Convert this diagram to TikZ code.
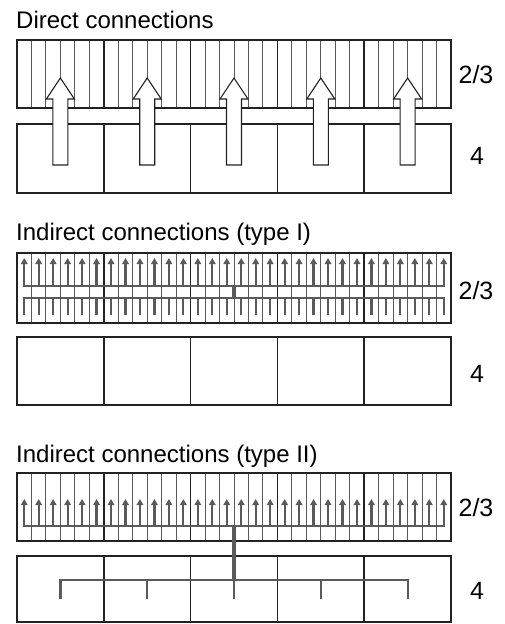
\documentclass[tikz,border=0pt]{standalone}
\usepackage{fontspec}
\setmainfont{Liberation Sans}
\usetikzlibrary{arrows.meta}
\definecolor{conn}{HTML}{5A5A5A}
\definecolor{ink}{HTML}{222222}
\begin{document}
\begin{tikzpicture}[x=1pt,y=-1pt,
  boxline/.style={draw=ink,line width=1.5pt},
  mini/.style={draw=black!65,line width=1pt},
  colsep/.style={draw=ink,line width=1.5pt},
  connline/.style={draw=conn,line width=2.2pt},
  hub/.style={draw=conn,line width=3.8pt},
  uparr/.style={connline,-{Triangle[width=6.5pt,length=6pt]}},
  blockarrow/.style={draw=ink,fill=white,line width=1.1pt,line join=miter},
  title/.style={font=\fontsize{24}{28}\selectfont,anchor=base west,inner sep=0pt},
  layer/.style={font=\fontsize{25}{29}\selectfont,inner sep=0pt}]
\useasboundingbox (0,0) rectangle (504,624);
% ---------- Panel 1 ----------
\node[title] (t1) at (16,28) {Direct connections};
\foreach \i in {1,...,29} {\draw[mini] ({17+\i*14.4667},40) -- ({17+\i*14.4667},108);}
\foreach \i in {1,...,4} {\draw[colsep] ({17+\i*86.8},40) -- ({17+\i*86.8},108);}
\draw[boxline] (17,40) rectangle (451,108);
\foreach \i in {1,...,4} {\draw[colsep] ({17+\i*86.8},124) -- ({17+\i*86.8},193);}
\draw[boxline] (17,124) rectangle (451,193);
\foreach \k in {0,...,4} {
  \pgfmathsetmacro\cx{60.4+86.8*\k}
  \draw[blockarrow] (\cx-7.5,165) -- (\cx-7.5,99) -- (\cx-14,99) -- (\cx,78)
     -- (\cx+14,99) -- (\cx+7.5,99) -- (\cx+7.5,165) -- cycle;
}
\node[layer] (l1a) at (476,75) {2/3};
\node[layer] (l1b) at (477,156) {4};
% ---------- Panel 2 ----------
\node[title] (t2) at (16,240) {Indirect connections (type I)};
\foreach \i in {1,...,29} {\draw[mini] ({17+\i*14.4667},253) -- ({17+\i*14.4667},323);}
\foreach \i in {1,...,4} {\draw[colsep] ({17+\i*86.8},253) -- ({17+\i*86.8},323);}
\draw[boxline] (17,253) rectangle (451,323);
\foreach \i in {0,...,29} {
  \pgfmathsetmacro\mx{17+(\i+0.5)*14.4667}
  \draw[uparr] (\mx,286) -- (\mx,258);
  \draw[connline] (\mx,298) -- (\mx,315);
}
\draw[connline,line cap=rect] (24.2,286) -- (443.8,286);
\draw[connline,line cap=rect] (24.2,298) -- (443.8,298);
\draw[hub] (234,286) -- (234,298);
\foreach \i in {1,...,4} {\draw[colsep] ({17+\i*86.8},337) -- ({17+\i*86.8},405);}
\draw[boxline] (17,337) rectangle (451,405);
\node[layer] (l2a) at (476,291) {2/3};
\node[layer] (l2b) at (477,374) {4};
% ---------- Panel 3 ----------
\node[title] (t3) at (16,462) {Indirect connections (type II)};
\foreach \i in {1,...,29} {\draw[mini] ({17+\i*14.4667},473) -- ({17+\i*14.4667},541);}
\foreach \i in {1,...,4} {\draw[colsep] ({17+\i*86.8},473) -- ({17+\i*86.8},541);}
\draw[boxline] (17,473) rectangle (451,541);
\foreach \i in {0,...,29} {
  \pgfmathsetmacro\mx{17+(\i+0.5)*14.4667}
  \draw[uparr] (\mx,526) -- (\mx,499);
}
\draw[connline,line cap=rect] (24.2,526) -- (443.8,526);
\foreach \i in {1,...,4} {\draw[colsep] ({17+\i*86.8},556) -- ({17+\i*86.8},622);}
\draw[boxline] (17,556) rectangle (451,622);
\draw[connline,line cap=rect] (60.4,580) -- (407.6,580);
\foreach \k in {0,...,4} {\draw[connline] ({60.4+86.8*\k},580) -- ({60.4+86.8*\k},599);}
\draw[hub] (234,526) -- (234,580);
\node[layer] (l3a) at (476,508) {2/3};
\node[layer] (l3b) at (477,591) {4};
\end{tikzpicture}
\end{document}
